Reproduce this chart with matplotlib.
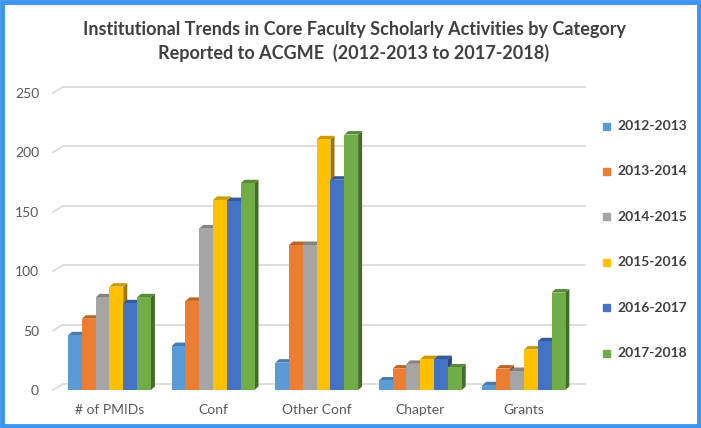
import matplotlib
matplotlib.use("Agg")
import matplotlib.pyplot as plt
from matplotlib.patches import Polygon, Rectangle
from matplotlib.colors import to_rgb

plt.rcParams['font.family'] = ['Lato', 'DejaVu Sans']

categories = ['# of PMIDs', 'Conf', 'Other Conf', 'Chapter', 'Grants']
years = ['2012-2013', '2013-2014', '2014-2015', '2015-2016', '2016-2017', '2017-2018']
values = {
    '2012-2013': [46, 37, 23, 8, 4],
    '2013-2014': [60, 75, 122, 18, 18],
    '2014-2015': [78, 136, 122, 22, 16],
    '2015-2016': [87, 160, 211, 26, 34],
    '2016-2017': [73, 159, 177, 26, 41],
    '2017-2018': [78, 174, 215, 19, 82],
}
colors = ['#5B9BD5', '#ED7D31', '#A5A5A5', '#FFC000', '#4472C4', '#70AD47']
yticks = [0, 50, 100, 150, 200, 250]

W, H = 701, 428
fig = plt.figure(figsize=(W / 100, H / 100), dpi=100)
ax = fig.add_axes([53 / W, 1 - 390 / H, (585 - 53) / W, (390 - 78.7) / H])
ax.set_xlim(-0.545, 4.59)
ax.set_ylim(0, 262)

# depth of the fake 3d effect, in data units
dx = 4 / 103.6
dy = 3.5 / 1.188
grid_off = 5

def shade(c, f):
    r, g, b = to_rgb(c)
    return (r * f, g * f, b * f)

# gridlines with a little perspective kink at the left
for v in yticks:
    ax.plot([-0.545, -0.545 + 10 / 103.6], [v, v + grid_off], color='#d9d9d9', lw=1.2,
            clip_on=False, zorder=0)
    ax.plot([-0.545 + 10 / 103.6, 4.59], [v + grid_off, v + grid_off], color='#d9d9d9',
            lw=1.2, clip_on=False, zorder=0)

n = len(years)
bw = 0.8 / n
for i, yr in enumerate(years):
    xs = [k - 0.4 + bw * (i + 0.5) for k in range(len(categories))]
    bars = ax.bar(xs, values[yr], width=bw, color=colors[i], zorder=2 + i * 0.01,
                  label=yr, linewidth=0)
    for b in bars:
        x0, w, h = b.get_x(), b.get_width(), b.get_height()
        side = Polygon([(x0 + w, 0), (x0 + w + dx, dy), (x0 + w + dx, h + dy), (x0 + w, h)],
                       closed=True, color=shade(colors[i], 0.62), lw=0, zorder=1.9 + i * 0.01)
        top = Polygon([(x0, h), (x0 + dx, h + dy), (x0 + w + dx, h + dy), (x0 + w, h)],
                      closed=True, color=shade(colors[i], 0.8), lw=0, zorder=1.9 + i * 0.01)
        ax.add_patch(side)
        ax.add_patch(top)

for s in ax.spines.values():
    s.set_visible(False)
ax.set_yticks(yticks)
ax.set_yticklabels([str(v) for v in yticks], fontsize=10, color='#595959')
ax.set_xticks(range(len(categories)))
ax.set_xticklabels(categories, fontsize=10, color='#595959')
ax.tick_params(length=0)
ax.tick_params(axis='y', pad=10)
ax.tick_params(axis='x', pad=10)

# legend as separate rows
for i, yr in enumerate(years):
    yp = 126 + i * 45.4
    fig.patches.append(Rectangle((603 / W, 1 - (yp + 3.5) / H), 7 / W, 7 / H,
                                 transform=fig.transFigure, color=colors[i]))
    fig.text(617 / W, 1 - yp / H, yr, fontsize=10, fontweight='bold', color='#404040',
             va='center', ha='left')

fig.text(354 / W, 1 - 30 / H, 'Institutional Trends in Core Faculty Scholarly Activities by Category',
         fontsize=13, fontweight='bold', color='#404040', ha='center', va='center')
fig.text(354 / W, 1 - 53 / H, 'Reported to ACGME  (2012-2013 to 2017-2018)',
         fontsize=13, fontweight='bold', color='#404040', ha='center', va='center')

fig.patches.append(Rectangle((2 / W, 2 / H), (W - 4) / W, (H - 4) / H, transform=fig.transFigure,
                             fill=False, edgecolor='#3C96F0', lw=3.5))

fig.savefig('out.png', dpi=100)
